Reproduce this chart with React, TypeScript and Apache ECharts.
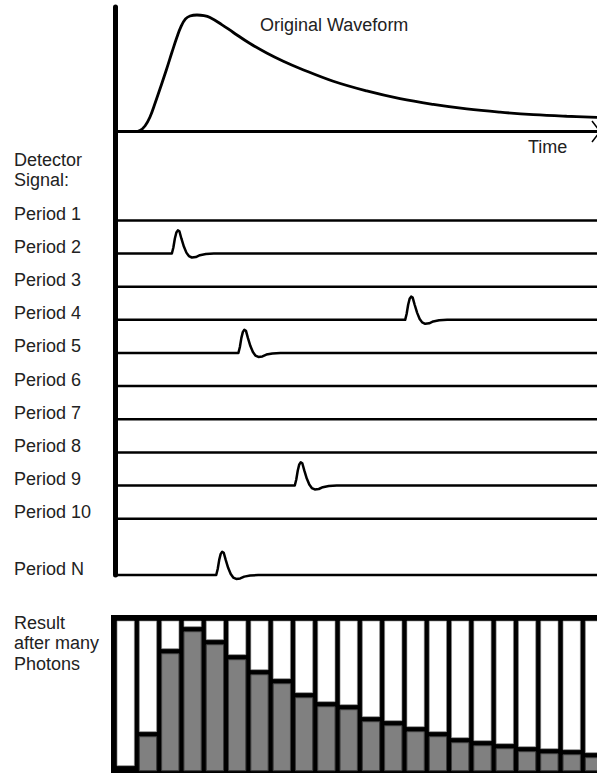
import React, { useEffect, useRef } from 'react';
import * as echarts from 'echarts';

// ---- Original waveform (time 0..100, amplitude 0..1) ----
const waveT = [0, 4.15, 5.19, 6.22, 7.26, 8.4, 9.54, 10.68, 11.83, 12.86, 13.69, 14.63, 15.56, 17.01, 18.46, 19.71, 22.14, 24.48, 28.01, 31.47, 34.92, 38.38, 45.29, 52.22, 59.13, 66.04, 72.97, 79.88, 86.78, 93.71, 100];
const waveA = [0, 0, 0.009, 0.047, 0.124, 0.253, 0.391, 0.532, 0.682, 0.811, 0.901, 0.966, 0.991, 1.0, 0.995, 0.979, 0.918, 0.852, 0.755, 0.674, 0.603, 0.541, 0.431, 0.348, 0.282, 0.233, 0.194, 0.166, 0.145, 0.131, 0.122];

// ---- Detector signal periods ----
const periodLabels = ['Period 1', 'Period 2', 'Period 3', 'Period 4', 'Period 5', 'Period 6', 'Period 7', 'Period 8', 'Period 9', 'Period 10', 'Period N'];
const periodRows = [1, 2, 3, 4, 5, 6, 7, 8, 9, 10, 11.7];
const pulseStarts: (number | null)[] = [null, 11.8, null, 60.2, 25.6, null, null, null, 37.3, null, 21.0];

// single-photon pulse template (time offset, relative amplitude)
const pulseShapeT = [0, 0.31, 0.62, 0.93, 1.24, 1.56, 1.97, 2.49, 3.01, 3.53, 4.15, 4.98, 5.81, 7.05, 8.71];
const pulseShapeA = [0, 0.26, 0.65, 0.91, 1.0, 0.96, 0.65, 0.3, 0.04, -0.11, -0.17, -0.15, -0.07, -0.02, 0];
const pulseHeight = 0.7; // in period rows

// ---- Histogram after many photons ----
const histCounts = [0, 34, 117, 139, 126, 111, 96, 87, 73, 64, 61, 49, 45, 39, 34, 28, 25, 22, 19, 17, 16, 13];

const FONT = '18px "Liberation Sans", Arial, sans-serif';
const TEXT_COLOR = '#222';

function textEl(text: string, x: number, y: number) {
  return {
    type: 'text',
    silent: true,
    style: {
      text,
      x,
      y,
      font: FONT,
      fill: TEXT_COLOR,
      textAlign: 'left',
      textVerticalAlign: 'middle',
      align: 'left',
      verticalAlign: 'middle',
    },
  };
}

export default function App() {
  const ref = useRef<HTMLDivElement>(null);

  useEffect(() => {
    if (!ref.current) return;
    const chart = echarts.init(ref.current, null, { renderer: 'svg' });

    const periodSeries = periodRows.map((row, k) => {
      const data: number[][] = [[0, row]];
      const start = pulseStarts[k];
      if (start !== null) {
        pulseShapeT.forEach((dt, j) => {
          data.push([start + dt, row - pulseShapeA[j] * pulseHeight]);
        });
      }
      data.push([100, row]);
      return {
        type: 'line',
        name: periodLabels[k],
        xAxisIndex: 1,
        yAxisIndex: 1,
        data,
        symbol: 'none',
        clip: false,
        lineStyle: { color: '#000', width: 2.5, join: 'round' },
        z: 3,
      };
    });

    const hidden = { show: false };

    chart.setOption({
      animation: false,
      backgroundColor: '#fff',
      grid: [
        { left: 115, right: 0, top: 15, height: 116.5 },
        { left: 115, right: 0, top: 7, height: 568 },
        { left: 111, right: 0, top: 615, bottom: 0, show: true, backgroundColor: '#000', borderWidth: 0 },
      ],
      xAxis: [
        {
          gridIndex: 0, type: 'value', min: 0, max: 100,
          axisLine: { show: true, lineStyle: { color: '#000', width: 3 } },
          axisTick: hidden, axisLabel: hidden, splitLine: hidden,
        },
        { gridIndex: 1, type: 'value', min: 0, max: 100, show: false },
        { gridIndex: 2, type: 'value', min: -0.659, max: 21.135, show: false },
      ],
      yAxis: [
        { gridIndex: 0, type: 'value', min: 0, max: 1, show: false },
        {
          gridIndex: 1, type: 'value', inverse: true, min: -5.44, max: 11.7,
          axisLine: { show: true, onZero: false, lineStyle: { color: '#000', width: 5 } },
          axisTick: hidden, axisLabel: hidden, splitLine: hidden,
        },
        { gridIndex: 2, type: 'value', min: -2.3, max: 155.7, show: false },
      ],
      series: [
        {
          type: 'line',
          name: 'Original Waveform',
          xAxisIndex: 0,
          yAxisIndex: 0,
          data: waveT.map((t, i) => [t, waveA[i]]),
          smooth: 0.4,
          symbol: 'none',
          clip: false,
          lineStyle: { color: '#000', width: 2.8 },
          z: 3,
        },
        ...periodSeries,
        {
          type: 'custom',
          name: 'Result',
          xAxisIndex: 2,
          yAxisIndex: 2,
          data: histCounts.map((v, i) => [i, v]),
          renderItem: (params: any, api: any) => {
            const i = api.value(0);
            const v = api.value(1);
            const base = api.coord([i, 0]);
            const top = api.coord([i, v]);
            const w = api.size([0.776, 0])[0];
            const cs = params.coordSys;
            const x = base[0] - w / 2;
            const whiteTop = cs.y + 6;
            const whiteBottom = top[1] - 5;
            const children: any[] = [
              {
                type: 'rect',
                shape: { x, y: whiteTop, width: w, height: whiteBottom - whiteTop },
                style: { fill: '#fff', stroke: '#8a8a8a', lineWidth: 0.6 },
              },
            ];
            if (v > 0) {
              children.push({
                type: 'rect',
                shape: { x, y: top[1], width: w, height: base[1] - top[1] },
                style: { fill: '#808080', stroke: '#3c3c3c', lineWidth: 1 },
              });
            }
            return { type: 'group', children };
          },
          z: 3,
        },
      ],
    });

    const labelEls = periodLabels.map((lab, k) => {
      const p = chart.convertToPixel({ gridIndex: 1 } as any, [0, periodRows[k]]) as number[];
      return textEl(lab, 14, p[1] - 6.5);
    });

    chart.setOption({
      graphic: [
        textEl('Original Waveform', 260, 25),
        textEl('Time', 528, 146.5),
        textEl('Detector', 14, 160),
        textEl('Signal:', 14, 180),
        ...labelEls,
        textEl('Result', 14, 623),
        textEl('after many', 14, 643),
        textEl('Photons', 14, 663.5),
        {
          type: 'polyline',
          silent: true,
          shape: { points: [[592, 121], [600, 131.5], [592, 142]] },
          style: { stroke: '#000', lineWidth: 1.5, fill: 'none' },
        },
      ],
    });

    return () => chart.dispose();
  }, []);

  return (
    <div
      ref={ref}
      style={{ position: 'fixed', left: 0, top: 0, width: 597, height: 773, background: '#fff' }}
    />
  );
}
